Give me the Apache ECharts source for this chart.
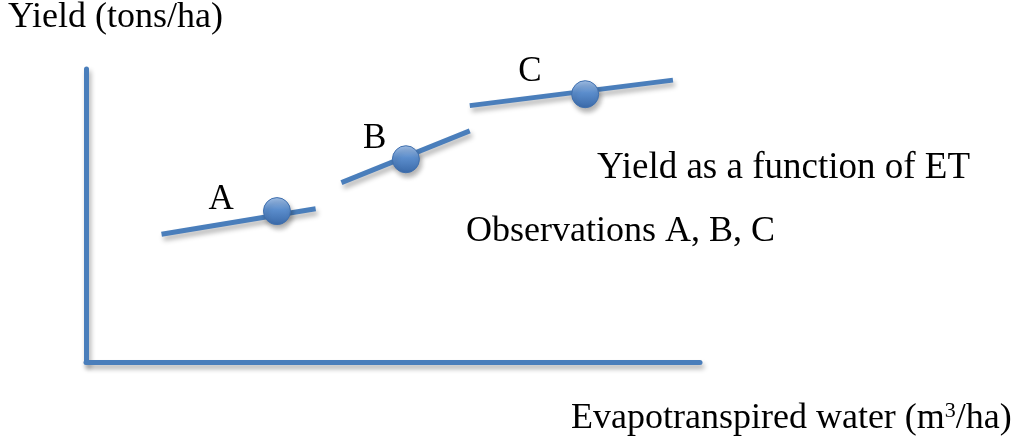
<!DOCTYPE html>
<html><head><meta charset="utf-8">
<script src="https://cdn.jsdelivr.net/npm/echarts@6/dist/echarts.min.js"></script>
<style>html,body{margin:0;padding:0;background:#fff}#c{width:1024px;height:448px}</style>
</head><body><div id="c"></div>
<script>
// Conceptual chart: arbitrary units 0..100 on both axes
const segmentA = [[12.3, 43.6], [37.4, 52.3]];
const segmentB = [[41.6, 61.2], [62.5, 78.9]];
const segmentC = [[62.5, 87.5], [95.6, 96.2]];
const observations = [[31.1, 51.5], [52.1, 69.2], [81.3, 91.4]];
const obsLabels = ['A', 'B', 'C'];
const labelPositions = [[22.0, 55.3], [47.0, 76.3], [72.3, 99.0]];
const yAxisTitle = 'Yield (tons/ha)';
const xAxisTitle = 'Evapotranspired water (m';
const legendLine1 = 'Yield as a function of ET';
const legendLine2 = 'Observations A, B, C';

const blue = '#4a7ebb';
const serif = '"Liberation Serif", "Times New Roman", serif';
const shadow = {shadowColor: 'rgba(0,0,0,0.3)', shadowBlur: 5, shadowOffsetX: 2, shadowOffsetY: 4};

function seg(d) {
  return {
    type: 'line', data: d, symbol: 'none', z: 2,
    lineStyle: Object.assign({color: blue, width: 5, cap: 'butt'}, shadow),
    silent: true
  };
}

const chart = echarts.init(document.getElementById('c'));
chart.setOption({
  animation: false,
  grid: {left: 86, right: 324, top: 69, bottom: 86},
  xAxis: {type: 'value', min: 0, max: 100,
    axisLine: {show: true, onZero: false, lineStyle: Object.assign({color: blue, width: 5}, shadow)},
    axisTick: {show: false}, axisLabel: {show: false}, splitLine: {show: false}},
  yAxis: {type: 'value', min: 0, max: 100,
    axisLine: {show: true, onZero: false, lineStyle: Object.assign({color: blue, width: 5}, shadow)},
    axisTick: {show: false}, axisLabel: {show: false}, splitLine: {show: false}},
  series: [
    seg(segmentA), seg(segmentB), seg(segmentC),
    {type: 'scatter', data: observations, symbol: 'circle', symbolSize: 27, z: 3, silent: true,
      itemStyle: Object.assign({
        opacity: 1,
        color: {type: 'linear', x: 0, y: 0, x2: 0, y2: 1, colorStops: [
          {offset: 0, color: '#a3c0e6'}, {offset: 0.45, color: '#5b8dcc'}, {offset: 1, color: '#3a69a8'}]},
        borderColor: '#3f6fae', borderWidth: 1}, shadow)},
    {type: 'scatter', data: labelPositions.map((p, i) => ({value: p, name: obsLabels[i]})),
      symbolSize: 0, silent: true, itemStyle: {opacity: 1},
      label: {show: true, position: 'inside', formatter: p => p.name, color: '#000', opacity: 1,
        fontFamily: serif, fontSize: 35}}
  ],
  graphic: [
    {type: 'text', left: 8, top: 0, style: {text: yAxisTitle, font: '36px ' + serif, fill: '#000'}},
    {type: 'text', left: 597, top: 150, style: {text: legendLine1, font: '37px ' + serif, fill: '#000'}},
    {type: 'text', left: 466, top: 214, style: {text: legendLine2, font: '36px ' + serif, fill: '#000'}},
    {type: 'text', left: 571, top: 400, style: {
      text: '{n|' + xAxisTitle + '}{s|3}{n|/ha)}',
      rich: {n: {fontFamily: serif, fontSize: 36, color: '#000'},
             s: {fontFamily: serif, fontSize: 22, color: '#000', verticalAlign: 'top', padding: [0, 0, 16, 0]}}}}
  ]
});
</script></body></html>
